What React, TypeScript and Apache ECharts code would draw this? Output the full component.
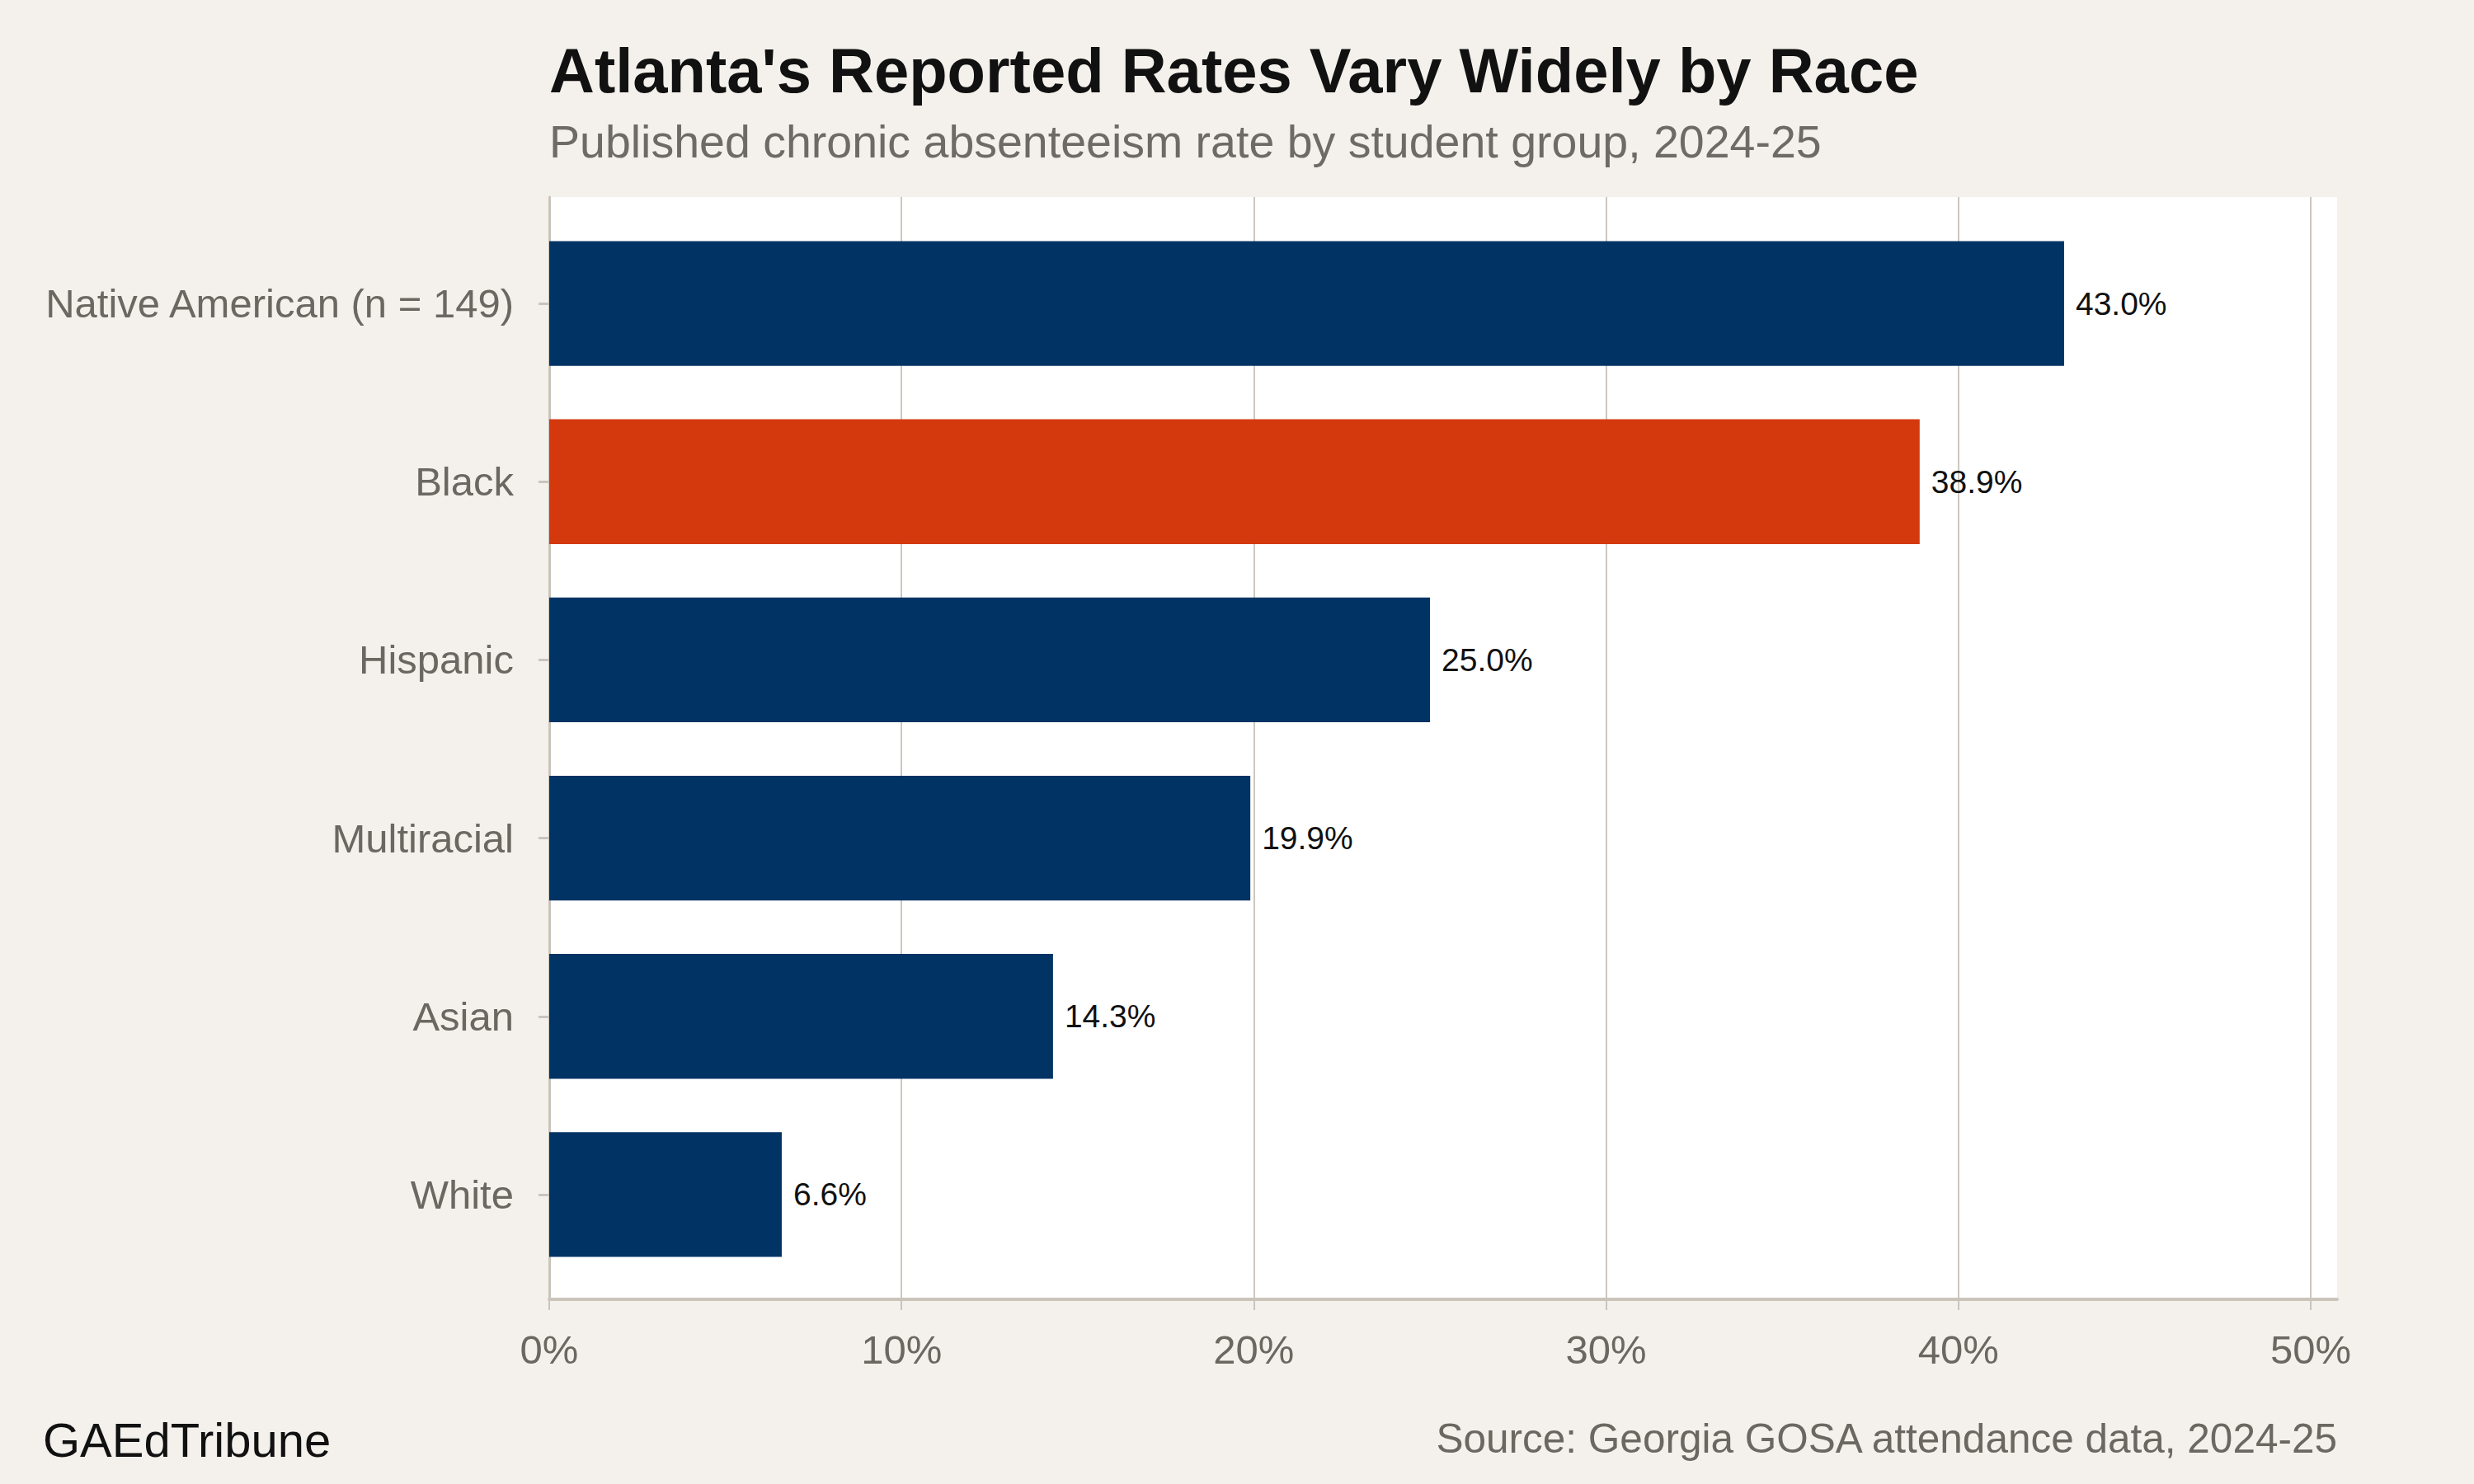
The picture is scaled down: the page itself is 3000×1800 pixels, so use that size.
import React, { useEffect, useRef } from "react";
import * as echarts from "echarts";

const categories = ["Native American (n = 149)", "Black", "Hispanic", "Multiracial", "Asian", "White"];
const rates = [43.0, 38.9, 25.0, 19.9, 14.3, 6.6];
const highlighted = "Black";
const xMin = 0;
const xMax = 50;
const xStep = 10;

const titleText = "Atlanta's Reported Rates Vary Widely by Race";
const subtitleText = "Published chronic absenteeism rate by student group, 2024-25";
const brandText = "GAEdTribune";
const sourceText = "Source: Georgia GOSA attendance data, 2024-25";

const FONT = "'Liberation Sans', Arial, Helvetica, sans-serif";
const BG = "#f4f1ec";
const NAVY = "#013364";
const ORANGE = "#d4390e";
const GRID_LINE = "#cdc7bf";
const AXIS_LINE = "#cac4bb";
const LABEL_GRAY = "#6b6761";

export default function App() {
  const ref = useRef<HTMLDivElement>(null);

  useEffect(() => {
    document.body.style.margin = "0";
    const chart = echarts.init(ref.current!, null, { renderer: "svg" });
    const option: any = {
      animation: false,
      backgroundColor: BG,
      grid: [
        { left: 666, top: 239, width: 2168, height: 1337, show: true, backgroundColor: "#ffffff", borderWidth: 0 },
        { left: 666, top: 239, width: 2136, height: 1337 },
        { left: 666, top: 260, width: 2136, height: 1297 },
      ],
      xAxis: [
        {
          gridIndex: 0, type: "value", min: 0, max: 1,
          axisLine: { show: true, lineStyle: { color: AXIS_LINE, width: 4 } },
          axisTick: { show: false }, axisLabel: { show: false }, splitLine: { show: false },
        },
        {
          gridIndex: 1, type: "value", min: xMin, max: xMax, interval: xStep,
          axisLine: { show: false },
          axisTick: { show: true, length: 13, lineStyle: { color: AXIS_LINE, width: 2 } },
          axisLabel: { formatter: "{value}%", fontSize: 49, fontFamily: FONT, color: LABEL_GRAY, margin: 36 },
          splitLine: { show: true, lineStyle: { color: GRID_LINE, width: 2 } },
        },
        { gridIndex: 2, type: "value", min: xMin, max: xMax, show: false },
      ],
      yAxis: [
        {
          gridIndex: 0, type: "value", min: 0, max: 1,
          axisLine: { show: true, lineStyle: { color: AXIS_LINE, width: 3 } },
          axisTick: { show: false }, axisLabel: { show: false }, splitLine: { show: false },
        },
        { gridIndex: 1, type: "value", show: false },
        {
          gridIndex: 2, type: "category", data: categories, inverse: true,
          axisLine: { show: false },
          axisTick: { show: true, alignWithLabel: true, length: 13, lineStyle: { color: AXIS_LINE, width: 3 } },
          axisLabel: { fontSize: 49, fontFamily: FONT, color: LABEL_GRAY, margin: 43 },
          splitLine: { show: false },
        },
      ],
      series: [
        {
          type: "bar",
          xAxisIndex: 2,
          yAxisIndex: 2,
          barWidth: "70%",
          data: rates.map((v, i) => ({
            value: v,
            itemStyle: { color: categories[i] === highlighted ? ORANGE : NAVY },
          })),
          label: {
            show: true,
            position: "right",
            distance: 14,
            formatter: (p: any) => Number(p.value).toFixed(1) + "%",
            fontSize: 39,
            fontFamily: FONT,
            color: "#111111",
          },
        },
      ],
      graphic: [
        {
          type: "text", x: 666, y: 85,
          style: { text: titleText, fontSize: 76, fontWeight: "bold", fontFamily: FONT, fill: "#111111", textAlign: "left", textVerticalAlign: "middle" },
        },
        {
          type: "text", x: 666, y: 172,
          style: { text: subtitleText, fontSize: 55.5, fontFamily: FONT, fill: "#6e6a65", textAlign: "left", textVerticalAlign: "middle" },
        },
        {
          type: "text", x: 52, y: 1746,
          style: { text: brandText, fontSize: 58, fontFamily: FONT, fill: "#111111", textAlign: "left", textVerticalAlign: "middle" },
        },
        {
          type: "text", x: 2834, y: 1744,
          style: { text: sourceText, fontSize: 49.5, fontFamily: FONT, fill: LABEL_GRAY, textAlign: "right", textVerticalAlign: "middle" },
        },
      ],
    };
    chart.setOption(option);
    return () => chart.dispose();
  }, []);

  return <div ref={ref} style={{ width: 3000, height: 1800 }} />;
}
